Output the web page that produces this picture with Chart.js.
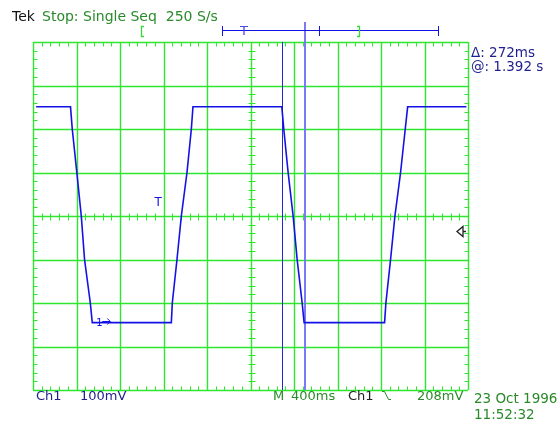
<!DOCTYPE html>
<html>
<head>
<meta charset="utf-8">
<script src="https://cdn.jsdelivr.net/npm/chart.js@4"></script>
<style>
html, body { margin: 0; padding: 0; background: #fff; }
</style>
</head>
<body>
<canvas id="scope" width="560" height="423"></canvas>
<script>
// Ch1 trace: time in ms from the left edge, level in mV above the Ch1 ground marker
const traceTime = [29, 345, 361, 403, 444, 474, 527, 545, 1272, 1281, 1324, 1364, 1416, 1456, 1471,
                   2288, 2306, 2346, 2392, 2429, 2475, 2493, 3233, 3245, 3288, 3328, 3380, 3423, 3445, 3985];
const traceLevel = [494, 494, 443, 343, 243, 143, 43, -2, -2, 43, 143, 243, 343, 443, 494,
                    494, 443, 343, 243, 143, 43, -2, -2, 43, 143, 243, 343, 443, 494, 494];

// graticule: 10 x 400 ms, 8 x 100 mV
const timeDivs = [0, 400, 800, 1200, 1600, 2000, 2400, 2800, 3200, 3600, 4000];
const levelDivs = [-157, -57, 43, 143, 243, 343, 443, 543, 643];

// cursors, trigger and markers
const cursorTime = [2288, 2502];
const triggerLevel = 208;
const triggerMark = { time: 1150, level: 277 };
const groundMark = { time: 582, level: 0 };

const GREEN = '#2ee62e';
const TEXT_GREEN = '#2a8a2a';
const NAVY = '#1e1e8c';
const BLUE = '#1212e6';

const graticule = {
    id: 'graticule',
    beforeDatasetsDraw(chart) {
        const { ctx, chartArea: a, scales: { x, y } } = chart;
        const px = v => Math.round(x.getPixelForValue(v)) + 0.5;
        const py = v => Math.round(y.getPixelForValue(v)) + 0.5;
        ctx.save();
        ctx.strokeStyle = GREEN;
        ctx.lineWidth = 1.4;
        ctx.beginPath();
        timeDivs.forEach(t => { ctx.moveTo(px(t), a.top); ctx.lineTo(px(t), a.bottom); });
        levelDivs.forEach(l => { ctx.moveTo(a.left, py(l)); ctx.lineTo(a.right, py(l)); });
        ctx.stroke();

        // minor ticks, 5 per division
        ctx.lineWidth = 1;
        ctx.beginPath();
        const cx = px(2000), cy = py(243);
        const top = py(643), bottom = py(-157), left = px(0), right = px(4000);
        for (let t = 80; t < 4000; t += 80) {
            if (t % 400 === 0) continue;
            const p = px(t);
            ctx.moveTo(p, top); ctx.lineTo(p, top + 4);
            ctx.moveTo(p, bottom); ctx.lineTo(p, bottom - 4);
            ctx.moveTo(p, cy - 3); ctx.lineTo(p, cy + 4);
        }
        for (let l = -137; l < 643; l += 20) {
            if ((l + 157) % 100 === 0) continue;
            const p = py(l);
            ctx.moveTo(left, p); ctx.lineTo(left + 4, p);
            ctx.moveTo(right, p); ctx.lineTo(right - 4, p);
            ctx.moveTo(cx - 3, p); ctx.lineTo(cx + 4, p);
        }
        ctx.stroke();

        // cursors
        ctx.strokeStyle = '#2626d6';
        ctx.beginPath();
        ctx.moveTo(px(cursorTime[0]), a.top);
        ctx.lineTo(px(cursorTime[0]), a.bottom);
        ctx.stroke();
        ctx.strokeStyle = '#7a7af6';
        ctx.lineWidth = 2;
        ctx.beginPath();
        ctx.moveTo(Math.round(x.getPixelForValue(cursorTime[1])), 22);
        ctx.lineTo(Math.round(x.getPixelForValue(cursorTime[1])), a.bottom);
        ctx.stroke();
        ctx.restore();
    },
    afterDatasetsDraw(chart) {
        const { ctx, scales: { x, y } } = chart;
        ctx.save();

        // trigger position marker
        ctx.fillStyle = BLUE;
        ctx.font = '12px "DejaVu Sans"';
        ctx.textAlign = 'center';
        ctx.fillText('T', x.getPixelForValue(triggerMark.time), y.getPixelForValue(triggerMark.level) + 5);

        // ground marker "1->"
        const gx = x.getPixelForValue(groundMark.time);
        const gy = Math.round(y.getPixelForValue(groundMark.level)) - 0.5;
        ctx.font = '10px "DejaVu Sans"';
        ctx.textAlign = 'left';
        ctx.fillText('1', gx, gy + 4);
        ctx.strokeStyle = BLUE;
        ctx.lineWidth = 1;
        ctx.beginPath();
        ctx.moveTo(gx + 6, gy); ctx.lineTo(gx + 14, gy);
        ctx.moveTo(gx + 11, gy - 3); ctx.lineTo(gx + 14, gy); ctx.lineTo(gx + 11, gy + 3);
        ctx.stroke();

        // trigger level arrow on the right edge
        const ty = Math.round(y.getPixelForValue(triggerLevel)) + 0.5;
        const tx = chart.chartArea.right - 11;
        ctx.strokeStyle = '#222';
        ctx.lineWidth = 1.3;
        ctx.beginPath();
        ctx.moveTo(tx, ty); ctx.lineTo(tx + 6, ty - 5); ctx.lineTo(tx + 6, ty + 5); ctx.closePath();
        ctx.moveTo(tx + 6, ty); ctx.lineTo(tx + 9, ty);
        ctx.stroke();
        ctx.restore();
    },
    afterDraw(chart) {
        const { ctx } = chart;
        ctx.save();
        ctx.textAlign = 'left';
        ctx.textBaseline = 'alphabetic';

        // header
        ctx.font = '14px "DejaVu Sans"';
        ctx.fillStyle = '#111';
        ctx.fillText('Tek', 12, 21);
        ctx.fillStyle = TEXT_GREEN;
        ctx.fillText('Stop: Single Seq  250 S/s', 42, 21);

        // record view bar
        ctx.strokeStyle = BLUE;
        ctx.lineWidth = 1;
        ctx.beginPath();
        ctx.moveTo(222, 30.5); ctx.lineTo(438, 30.5);
        [222.5, 319.5, 438.5].forEach(p => { ctx.moveTo(p, 26); ctx.lineTo(p, 36); });
        ctx.stroke();
        ctx.fillStyle = '#4a4ae6';
        ctx.font = '13px "DejaVu Sans"';
        ctx.fillText('T', 240, 35);
        ctx.strokeStyle = '#3ad83a';
        ctx.lineWidth = 1.3;
        ctx.beginPath();
        ctx.moveTo(144, 26.5); ctx.lineTo(141.5, 26.5); ctx.lineTo(141.5, 36.5); ctx.lineTo(144, 36.5);
        ctx.moveTo(357, 26.5); ctx.lineTo(359.5, 26.5); ctx.lineTo(359.5, 36.5); ctx.lineTo(357, 36.5);
        ctx.stroke();

        // cursor readout
        ctx.fillStyle = NAVY;
        ctx.font = '13.5px "DejaVu Sans"';
        ctx.fillText('\u0394: 272ms', 471, 57);
        ctx.fillText('@: 1.392 s', 471, 71);

        // bottom status line
        ctx.font = '13px "DejaVu Sans"';
        ctx.fillText('Ch1', 36, 400);
        ctx.fillText('100mV', 80, 400);
        ctx.fillStyle = TEXT_GREEN;
        ctx.fillText('M', 273, 400);
        ctx.fillText('400ms', 291, 400);
        ctx.fillStyle = '#222';
        ctx.fillText('Ch1', 348, 400);
        ctx.strokeStyle = TEXT_GREEN;
        ctx.lineWidth = 1;
        ctx.beginPath();
        ctx.moveTo(382, 391.5); ctx.lineTo(384.5, 391.5); ctx.lineTo(388.5, 399.5); ctx.lineTo(391, 399.5);
        ctx.stroke();
        ctx.fillStyle = TEXT_GREEN;
        ctx.fillText('208mV', 417, 400);

        // date and time
        ctx.font = '13.5px "DejaVu Sans"';
        ctx.fillText('23 Oct 1996', 474, 403);
        ctx.fillText('11:52:32', 474, 419);
        ctx.restore();
    }
};

const ctx = document.getElementById('scope').getContext('2d');
const scopeChart = new Chart(ctx, {
    type: 'line',
    data: {
        datasets: [{
            label: 'Ch1',
            data: traceTime.map((t, i) => ({ x: t, y: traceLevel[i] })),
            borderColor: BLUE,
            borderWidth: 1.6,
            pointRadius: 0,
            tension: 0,
            fill: false
        }]
    },
    options: {
        responsive: false,
        animation: false,
        events: [],
        layout: { padding: { left: 33, right: 92, top: 42, bottom: 33 } },
        plugins: {
            legend: { display: false },
            tooltip: { enabled: false }
        },
        scales: {
            x: { type: 'linear', min: 0, max: 4000, display: false },
            y: { type: 'linear', min: -157, max: 643, display: false }
        }
    },
    plugins: [graticule]
});
</script>
</body>
</html>
